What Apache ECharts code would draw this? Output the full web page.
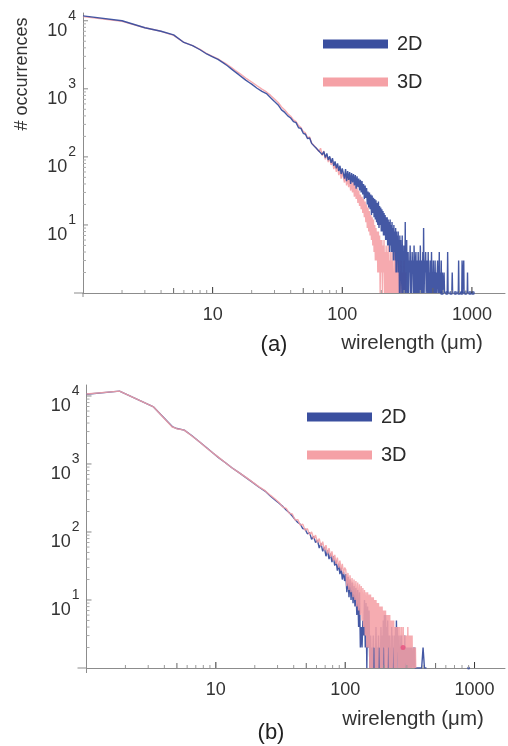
<!DOCTYPE html>
<html>
<head>
<meta charset="utf-8">
<script src="https://cdn.jsdelivr.net/npm/echarts@6/dist/echarts.min.js"></script>
<style>
html,body{margin:0;padding:0;background:#fff;}
#c{width:508px;height:746px;}
</style>
</head>
<body>
<div id="c"></div>
<script>
// ---------- Panel (a) data ----------
const xHeadA = [1,2,3,4,5,6,7,8,9,10,11,12,13,14,15,16,17,18,19,20,22,24,26,28,30,32,34,36,38];
const blueHeadA = [11800,10000,7900,7000,6200,4800,4300,3750,3250,2950,2700,2420,2180,1950,1760,1600,1460,1340,1250,1170,1020,920,850,740,650,580,490,450,400];
const pinkHeadA = [11500,9800,7900,7000,6100,4800,4300,3800,3300,3000,2750,2480,2260,2050,1860,1700,1560,1440,1340,1260,1110,990,900,800,710,630,540,490,430];
const xMidA = [40,42,44,46,48,50,52,54,56,58,60,62,64,66,68,70,72,74,76,78,80,82,84,86,88,90,92,94,96,98,100];
const blueMidA = [372,330,318,268,262,222,215,185,190,158,165,138,146,122,130,108,120,98,112,90,102,82,96,74,86,68,80,62,74,56,68];
const pinkMidA = [395,350,330,288,270,235,225,190,196,160,170,140,148,120,134,104,122,92,108,84,98,76,90,66,80,60,74,54,66,48,60];
const xTailA = [102,104,106,108,110,112,114,116,118,120,122,124,126,128,130,132,134,136,138,140,142,144,146,148,150,152,154,156,158,160,162,164,166,168,170,172,174,176,178,180,182,184,186,188,190,192,194,196,198,200,202,204,206,208,210,212,214,216,218,220,222,224,226,228,230,232,234,236,238,240,242,244,246,248,250,252,254,256,258,260,262,264,266,268,270,272,274,276,278,280,282,284,286,288,290,292,294,296,298,300,302,304,306,308,310,312,314,316,318,320];
const blueTailA = [70,48,66,44,62,46,60,40,58,42, 56,38,54,34,52,36,48,32,46,30, 44,28,40,24,38,25,35,20,31,18, 30,17,28,14,27,15,25,13,24,12, 23,11,21,10,22,9,19,10,18,8, 17,8,16,7,15,7,14,6,13,6, 13,5,12,5,11,4,12,5,10,4, 11,4,9,3,10,4,8,3,9,2, 8,2,7,3,8,2,6,1,7,2, 6,1,5,2,7,1,5,1,4,1, 5,1,11,1,4,2,6,1,3,1];
const pinkTailA = [60,42,56,38,52,36,48,32,44,30, 42,26,38,24,35,21,32,19,28,17, 26,15,24,13,22,11,20,9,18,8, 16,7,14,6,13,5,12,4,10,3, 9,3,8,2,8,2,7,1,6,2, 6,1,5,2,6,1,4,1,5,1, 4,1,5,1,3,1,4,1,3,1, 4,1,3,1,2,1,4,1,2,1, 3,1,2,1,3,1,2,1,1,2, 1,3,1,2,1,1,2,1,1,3, 1,2,1,1,2];
const xFarA = [322,325,328,331,334,337,340,343,346,349,352,355,358,361,364,367,370,373,376,379,382,385,388,391,394,397,400,403,406,409,412,415,418,421,
  424,428,432,436,440,444,448,452,456,460,464,468,472,476,480,484,488,492,496,500,504,508,512,516,520,524,528,532,536,540,544,548,552,556,560,564,568,572,576,580,584,588,592,596,600,
  605,610,615,620,645,650,655,660,700,705,710,715,785,790,795,800,835,840,845,860,865,870,875,920,925,930];
const blueFarA = [4,1,3,2,5,1,3,1,4,2,3,1,5,2,1,3,4,1,2,3,1,4,2,1,3,1,5,2,1,3,2,1,4,1,
  9,1,3,2,4,1,2,3,1,4,1,2,1,3,2,1,4,1,2,1,3,1,2,1,3,1,2,1,1,2,3,1,2,1,4,1,1,2,1,3,1,1,2,1,1,
  1,2,1,'-',1,4,1,'-',1,2,1,'-',1,3,1,'-',1,3,1,1,3,1,'-',1,2,1];
const blueDotsA = [588,640,690,745,795,836,895,966,1018];

// ---------- Panel (b) data ----------
const xHeadB = [1,1.8,3.3,4.6,5,5.7,6.5,7.5,8.4,9.5,10.5,11.8,13.3,15.2,17,19,21.6,24,26.5,29];
const pinkHeadB = [10700,11800,6900,3500,3300,3150,2600,2100,1750,1450,1250,1050,880,740,640,550,460,405,345,300];
const blueHeadB = [10600,11800,6900,3550,3320,3150,2620,2100,1760,1450,1240,1050,880,740,635,545,455,400,335,290];
const xMidB = [31,33,35,37,39,41,43,45,47,49,51,53,55,57,59,61,63,65,67,69,71,73,75,77,79,81,83,85,87,89,91,93,95,97,99];
const pinkMidB = [268,232,222,188,184,150,152,126,130,106,112,92,100,80,90,70,80,62,72,54,64,48,58,43,52,38,46,34,42,30,38,27,34,24,30];
const blueMidB = [262,236,210,192,172,152,138,130,112,110,94,98,78,86,70,76,58,68,52,60,44,54,40,48,36,44,32,38,27,34,24,30,20,26,19];
const xTailB = [101,103,105,107,109,111,113,115,117,119,121,123,125,127,129,131,133,135,137,139,141,143,145,147,149,151,153,155,157,159,161,163,165,167,169,171,173,175,177,179,181,183,185,187,189,191,193,195,197,199,201,203,205,207,209,211,213,215,217,219,221,223,225,227,229,231,233,235,237,239,241,243,245,247,249,251,253,255,257,259,261,263,265,267,269,271,273,275,277,279,281,283,285,287,289,291,293,295,297,299,301,303,305,307,309,311,313,315,317,319,321,323,325,327,329,331,333,335,337,339,341,343,345,347,349,351];
const pinkTailB = [28,16,25,14,23,13,21,11,20,10, 19,8,18,7,17,6,16,5,15,4, 14,3,13,2,13,2,12,1,12,1, 11,1,11,2,10,1,10,1,9,1, 9,2,8,1,8,1,8,1,7,2, 7,1,7,1,6,1,6,2,6,1, 6,1,5,1,5,1,5,2,5,1, 4,1,4,1,4,1,4,2,4,1, 4,1,4,1,3,1,4,1,3,1, 4,1,3,1,3,2,3,1,3,1, 3,1,4,1,3,1,3,1,2,1, 3,1,2,1,3,1,2,1,2,1, 2,1,2,1,2,1];
const blueTailB = [24,13,22,11,20,10,18,9,16,8, 15,6,14,4,13,2,4,2,5,3, 10,2,9,1,8,2,7,1,3,1, 2,1,3,1,2,1,4,1,2,1, 3,1,2,1,4,1,3,1,5,1, 6,1,6,2,4,1,5,1,3,1, 3,1,2,1,4,1,3,1,2,1, 3,1,4,1,5,1,4,2,3,1, 2,1,3,1,2,1,3,1,2,1, 2,1,2,1,3,1,2,1,1,2, 1,2,1,1,2,1,1,2,1,1, 2,1,1,2,1,1,1,1,2,1, 1,1,2,1,1,1];
const xFarB = [356,372,390,400,410,425];
const blueFarB = [1,1,1,2,1,1];
const pinkDotB = [[280,2]];
const blueDotB = [[900,1]];

// ---------- Tick values ----------
const xMajorTicks = [10,100,1000];
const xMidTicks = [5,50,500];
const xMinorTicks = [2,3,4,6,7,8,9,20,30,40,60,70,80,90,200,300,400,600,700,800,900];
const yMajorTicks = [10,100,1000,10000];
const yMinorTicks = [2,3,4,5,6,7,8,9,20,30,40,50,60,70,80,90,200,300,400,500,600,700,800,900,2000,3000,4000,5000,6000,7000,8000,9000];

const seriesNames = ['2D','3D'];
const BLUE = '#3a4f9f';
const PINK = '#f5a1a6';
const FONT = 'Liberation Sans, Arial, Helvetica, sans-serif';
const AXIS = '#8c8c8c';

function zip(xs, ys){ return xs.map((x,i)=>[x, ys[i]]); }

function isPow10(v){
  const e = Math.round(Math.log10(v));
  return Math.abs(v - Math.pow(10,e)) < 1e-6 * Math.max(1,v) ? e : null;
}
function xFmt(v){
  const e = isPow10(v);
  if (e === null || e === 0) return '';
  return String(Math.pow(10,e));
}
function yFmt(v){
  const e = isPow10(v);
  if (e === null || e === 0) return '';
  return '{b|10}{s|' + e + '}';
}

function tickSeries(vals, g, dir, len, color){
  return {
    type:'custom', xAxisIndex:g, yAxisIndex:g, silent:true, clip:false, z:6,
    data: vals.map(v => dir === 'x' ? [v,1] : [1,v]),
    renderItem: function(params, api){
      const p = api.coord([api.value(0), api.value(1)]);
      const shape = dir === 'x'
        ? {x1:p[0], y1:p[1], x2:p[0], y2:p[1]-len}
        : {x1:p[0], y1:p[1], x2:p[0]+len, y2:p[1]};
      return {type:'line', shape:shape, style:{stroke:color, lineWidth:1}};
    }
  };
}
function frameSeries(g, left, down){
  return {
    type:'custom', xAxisIndex:g, yAxisIndex:g, silent:true, clip:false, z:6,
    data:[[1,1]],
    renderItem:function(params, api){
      const p = api.coord([1,1]);
      return {type:'group', children:[
        {type:'line', shape:{x1:p[0]-left, y1:p[1], x2:p[0], y2:p[1]}, style:{stroke:AXIS, lineWidth:1}},
        {type:'line', shape:{x1:p[0], y1:p[1], x2:p[0], y2:p[1]+down}, style:{stroke:AXIS, lineWidth:1}}
      ]};
    }
  };
}

function lineSeries(name, g, data, color, opacity, z){
  return {
    name:name, type:'line', xAxisIndex:g, yAxisIndex:g, data:data,
    showSymbol:false, symbol:'none', silent:true, z:z,
    itemStyle:{color:color},
    lineStyle:{color:color, width:1.4, opacity:opacity},
    connectNulls:false
  };
}

const series = [];
// panel (a): pink below, blue on top
series.push(lineSeries(seriesNames[1], 0,
  zip(xHeadA.concat(xMidA, xTailA.slice(0, pinkTailA.length)), pinkHeadA.concat(pinkMidA, pinkTailA)), PINK, 0.9, 2));
series.push(lineSeries(seriesNames[0], 0,
  zip(xHeadA.concat(xMidA, xTailA, xFarA), blueHeadA.concat(blueMidA, blueTailA, blueFarA)), BLUE, 0.95, 3));
series.push({type:'scatter', xAxisIndex:0, yAxisIndex:0, data:blueDotsA.map(x=>[x,1]), symbolSize:4, itemStyle:{color:BLUE}, silent:true, z:4});
// panel (b): blue below, pink on top
series.push(lineSeries(seriesNames[0], 1,
  zip(xHeadB.concat(xMidB, xTailB, xFarB), blueHeadB.concat(blueMidB, blueTailB, blueFarB)), BLUE, 0.95, 2));
series.push(lineSeries(seriesNames[1], 1,
  zip(xHeadB.concat(xMidB, xTailB), pinkHeadB.concat(pinkMidB, pinkTailB)), PINK, 0.88, 3));
series.push({type:'scatter', xAxisIndex:1, yAxisIndex:1, data:pinkDotB, symbolSize:5, itemStyle:{color:'#e8507e'}, silent:true, z:4});
series.push({type:'scatter', xAxisIndex:1, yAxisIndex:1, data:blueDotB, symbolSize:3, itemStyle:{color:BLUE}, silent:true, z:4});

[0,1].forEach(g=>{
  series.push(tickSeries(xMajorTicks, g, 'x', 6, '#333'));
  series.push(tickSeries(xMidTicks, g, 'x', 5, '#666'));
  series.push(tickSeries(xMinorTicks, g, 'x', 3, '#999'));
  series.push(tickSeries(yMajorTicks, g, 'y', 5, '#888'));
  series.push(tickSeries(yMinorTicks, g, 'y', 3, '#aaa'));
});
series.push(frameSeries(0, 9, 4));
series.push(frameSeries(1, 9, 5));

function xAxisCfg(g, max){
  return {type:'log', logBase:10, gridIndex:g, min:1, max:max,
    axisLine:{show:true, onZero:false, lineStyle:{color:AXIS, width:1}},
    axisTick:{show:false}, minorTick:{show:false}, splitLine:{show:false}, minorSplitLine:{show:false},
    axisLabel:{formatter:xFmt, fontSize:18, color:'#333', margin:13, fontFamily:FONT}};
}
function yAxisCfg(g, max){
  return {type:'log', logBase:10, gridIndex:g, min:1, max:max,
    axisLine:{show:true, onZero:false, lineStyle:{color:AXIS, width:1}},
    axisTick:{show:false}, minorTick:{show:false}, splitLine:{show:false}, minorSplitLine:{show:false},
    axisLabel:{formatter:yFmt, margin:7, fontFamily:FONT, padding:[0,0,10,0],
      rich:{
        b:{fontSize:18, lineHeight:18, color:'#333', padding:[15,0,0,0], verticalAlign:'top', fontFamily:FONT},
        s:{fontSize:14, lineHeight:14, color:'#333', padding:[2,0,0,1], verticalAlign:'top', fontFamily:FONT}
      }}};
}
function legendCfg(left, top){
  return {data:seriesNames, left:left, top:top, orient:'vertical', icon:'rect',
    itemWidth:65, itemHeight:9, itemGap:18, selectedMode:false, padding:0,
    textStyle:{fontSize:20, color:'#2b2b2b', padding:[0,0,0,4], fontFamily:FONT}};
}

const option = {
  animation:false,
  textStyle:{fontFamily:FONT},
  grid:[{left:83, top:13, width:423, height:280},{left:86.5, top:385, width:420.5, height:283}],
  xAxis:[xAxisCfg(0, 1800), xAxisCfg(1, 1720)],
  yAxis:[yAxisCfg(0, 13000), yAxisCfg(1, 14500)],
  legend:[legendCfg(323, 34), legendCfg(307, 407)],
  graphic:[
    {type:'text', x:22, y:74, rotation:Math.PI/2, style:{text:'# occurrences', fontSize:18, fill:'#333', align:'center', verticalAlign:'middle', fontFamily:FONT}},
    {type:'text', x:274, y:345, style:{text:'(a)', fontSize:22, fill:'#222', align:'center', verticalAlign:'middle', fontFamily:FONT}},
    {type:'text', x:412, y:343, style:{text:'wirelength (μm)', fontSize:20.5, fill:'#333', align:'center', verticalAlign:'middle', fontFamily:FONT}},
    {type:'text', x:271, y:733, style:{text:'(b)', fontSize:22, fill:'#222', align:'center', verticalAlign:'middle', fontFamily:FONT}},
    {type:'text', x:413, y:719, style:{text:'wirelength (μm)', fontSize:20.5, fill:'#333', align:'center', verticalAlign:'middle', fontFamily:FONT}}
  ],
  series:series
};
const chart = echarts.init(document.getElementById('c'), null, {renderer:'canvas'});
chart.setOption(option);
</script>
</body>
</html>
